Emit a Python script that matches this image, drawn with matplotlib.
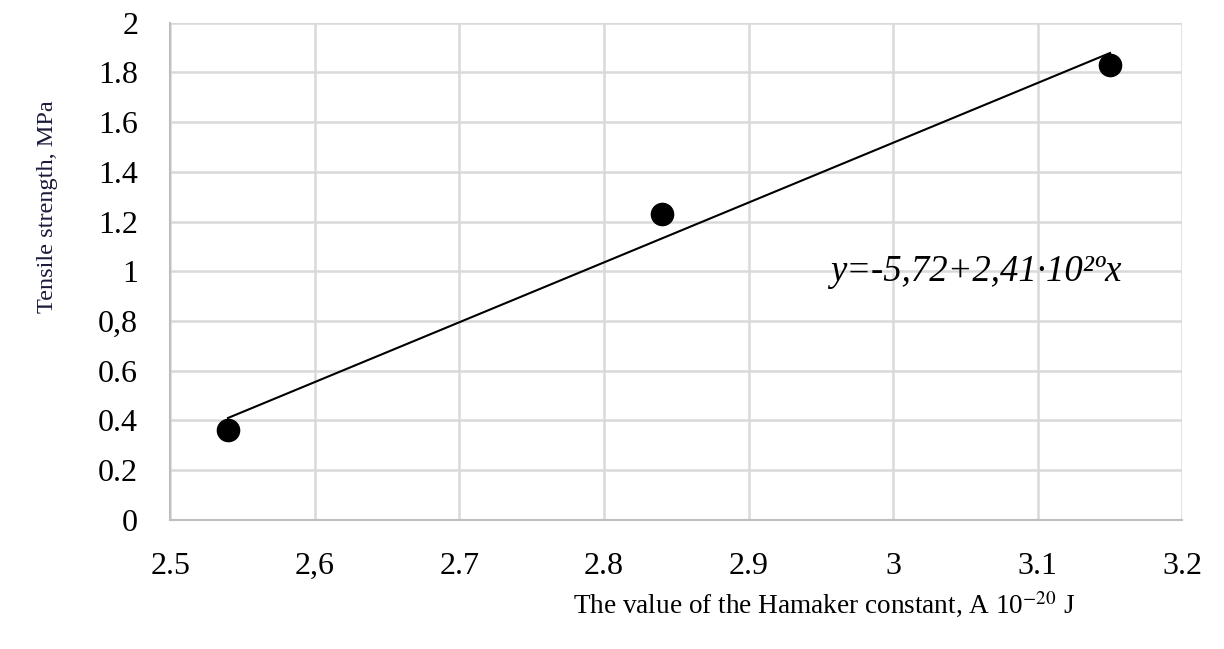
import numpy as np
import matplotlib
matplotlib.use('Agg')
import matplotlib.pyplot as plt

plt.rcParams['font.family'] = ['Liberation Serif', 'DejaVu Serif']
plt.rcParams['mathtext.fontset'] = 'stix'

# data
hamaker = [2.54, 2.84, 3.15]
strength = [0.36, 1.23, 1.83]
x_ticks = [2.5, 2.6, 2.7, 2.8, 2.9, 3.0, 3.1, 3.2]
x_labels = ['2.5', '2,6', '2.7', '2.8', '2.9', '3', '3.1', '3.2']
y_ticks = [0, 0.2, 0.4, 0.6, 0.8, 1.0, 1.2, 1.4, 1.6, 1.8, 2.0]
y_labels = ['0', '0.2', '0.4', '0.6', '0,8', '1', '1.2', '1.4', '1.6', '1.8', '2']

fig = plt.figure(figsize=(12.24, 6.49), dpi=100)
ax = fig.add_axes([0.139, 0.199, 0.827, 0.766])

# linear trendline
coef = np.polyfit(hamaker, strength, 1)
xs = np.array([min(hamaker), max(hamaker)])
ax.plot(xs, np.polyval(coef, xs), color='black', lw=1.5, zorder=3)
ax.plot(hamaker, strength, 'o', color='black', markersize=16, zorder=4)

ax.set_xlim(2.5, 3.2)
ax.set_ylim(0, 2)
ax.set_xticks(x_ticks)
ax.set_xticklabels(x_labels)
ax.set_yticks(y_ticks)
ax.set_yticklabels(y_labels)
ax.tick_params(length=0, labelsize=23, colors='black')
ax.tick_params(axis='x', pad=23)
ax.tick_params(axis='y', pad=23)
ax.grid(True, color='#d9d9d9', lw=1.8)
ax.set_axisbelow(True)
for s in ['top', 'right']:
    ax.spines[s].set_visible(False)
for s in ['left', 'bottom']:
    ax.spines[s].set_color('#bfbfbf')
    ax.spines[s].set_linewidth(1.5)

ax.text(2.9565, 0.998, 'y=-5,72+2,41·10²ºx', fontsize=26.5, style='italic',
        ha='left', va='center')

fig.text(0.039, 0.681, 'Tensile strength, MPa', rotation=90, fontsize=17.5,
         color='#1a1a3a', ha='center', va='center')
fig.text(0.468, 0.068, 'The value of the Hamaker constant, A 10$^{-20}$ J',
         fontsize=19.6, ha='left', va='center')

fig.savefig('out.png', dpi=100)
